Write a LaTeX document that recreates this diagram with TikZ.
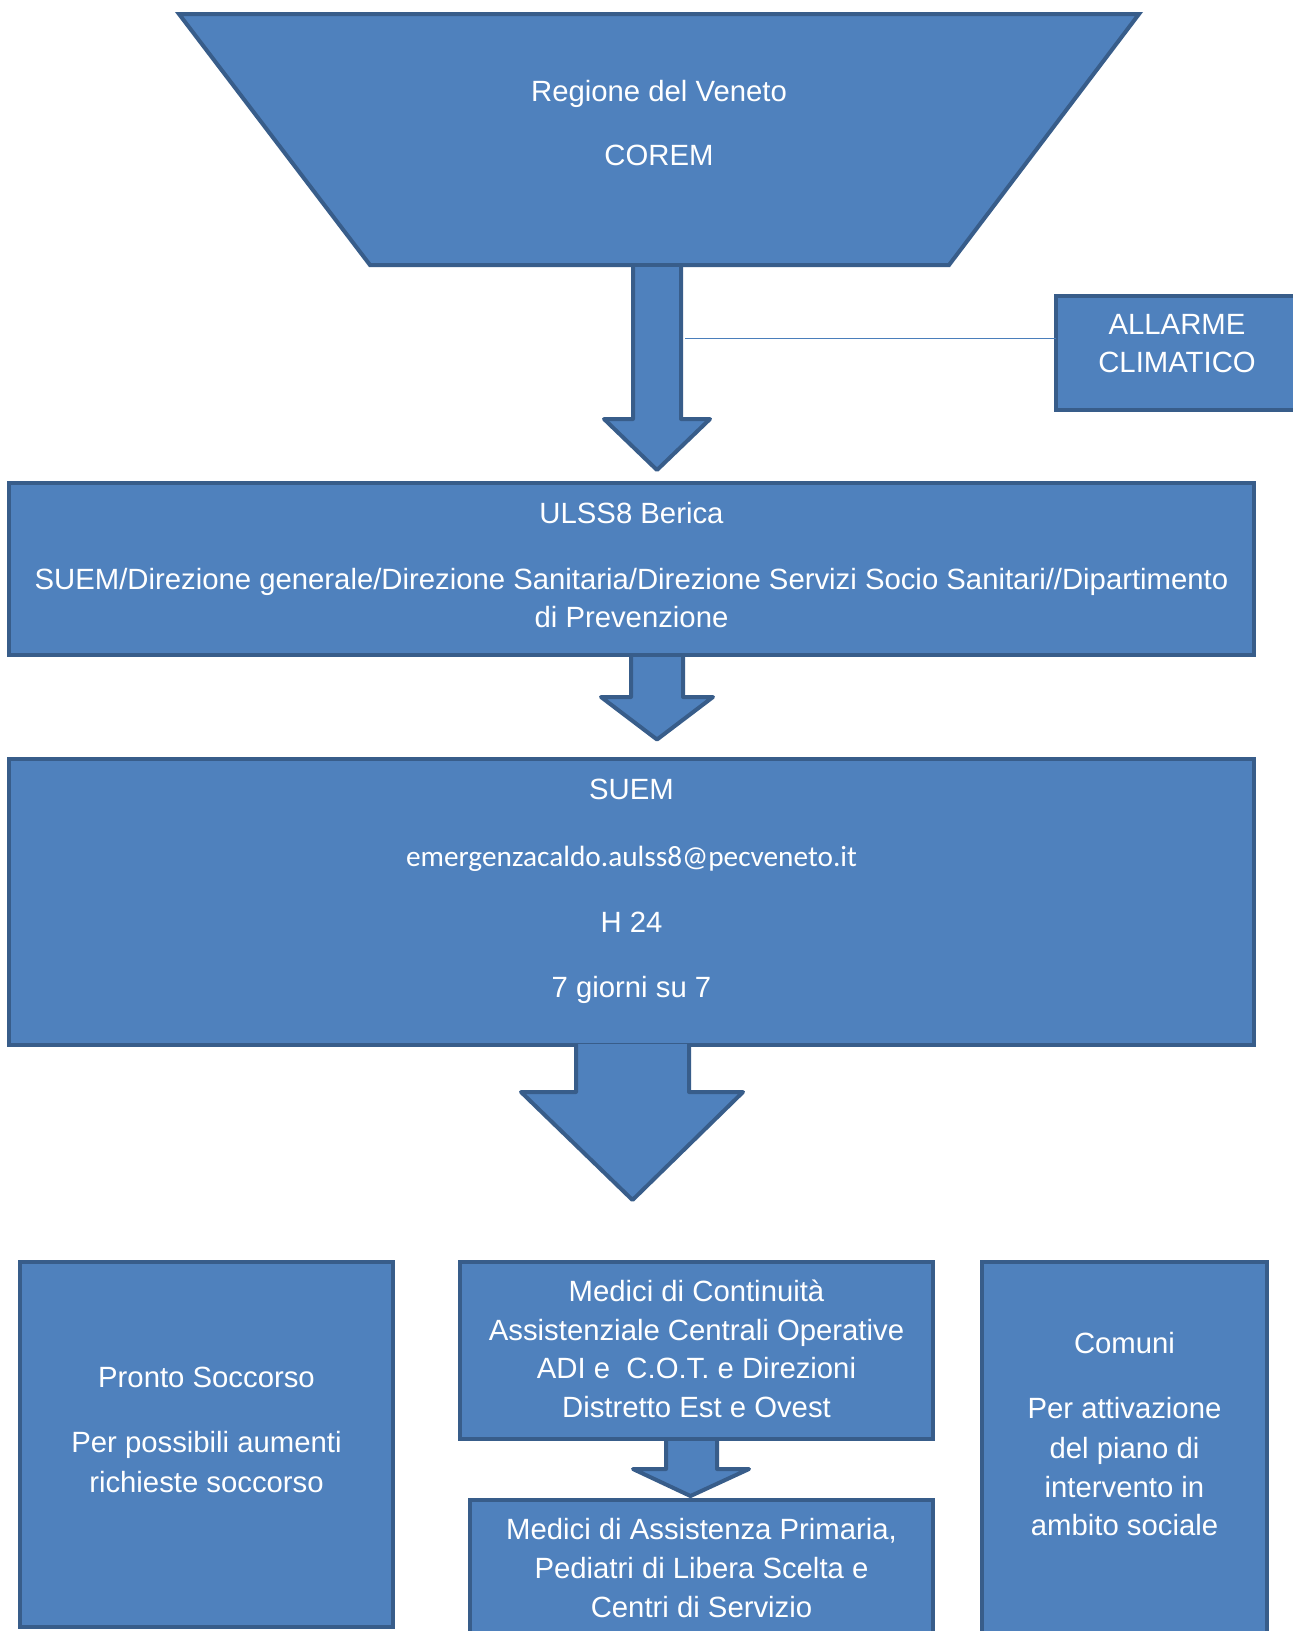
\documentclass[tikz,border=0pt]{standalone}
\usepackage{fontspec}
\setmainfont{Liberation Sans}
\newfontfamily\calibfont{Carlito}
\definecolor{bfill}{HTML}{4F81BD}
\definecolor{bline}{HTML}{385D8A}
\definecolor{thinline}{HTML}{4A7EBB}
\begin{document}
\begin{tikzpicture}[x=1pt,y=-1pt,
  box/.style={draw=bline, fill=bfill, line width=4pt, inner sep=0pt, outer sep=0pt},
  arrowbody/.style={draw=bline, fill=bfill, line width=4pt, line join=round},
  lbl/.style={text=white, font=\fontsize{29.3}{39.5}\selectfont, inner sep=0pt, text height=21pt, text depth=0pt},
  maillbl/.style={lbl, font=\fontsize{29.3}{39.5}\calibfont}]
\clip (0,0) rectangle (1293,1631);
\fill[white] (0,0) rectangle (1293,1631);
% top trapezoid
\draw[box] (179,14) -- (1139,14) -- (949,265) -- (370,265) -- cycle;
% boxes
\node[box, minimum width=244pt, minimum height=114pt] (allarme) at (1178,353) {};
\node[box, minimum width=1245pt, minimum height=172pt] (ulss) at (631.5,569) {};
\node[box, minimum width=1245pt, minimum height=286pt] (suem) at (631.5,902) {};
\node[box, minimum width=373pt, minimum height=365pt] (pronto) at (206.5,1444.5) {};
\node[box, minimum width=473pt, minimum height=177pt] (cont) at (696.5,1350.5) {};
\node[box, minimum width=463pt, minimum height=161pt] (prim) at (701.5,1580.5) {};
\node[box, minimum width=285pt, minimum height=379pt] (comuni) at (1124.5,1451.5) {};
% block arrows
\draw[arrowbody] (633,267) -- (633,419) -- (604,419) -- (657,470) -- (710,419) -- (681,419) -- (681,267);
\draw[arrowbody] (631,657) -- (631,697) -- (601,697) -- (657,739.5) -- (713,697) -- (683,697) -- (683,657);
\draw[arrowbody] (576,1044) -- (576,1092) -- (521,1092) -- (632.5,1200) -- (743,1092) -- (689,1092) -- (689,1044);
\draw[arrowbody] (666,1441) -- (666,1469) -- (633,1469) -- (690.5,1496) -- (749,1469) -- (717,1469) -- (717,1441);
% thin connector
\coordinate (a1r) at (685,338.5);
\draw[thinline, line width=1.6pt] (a1r) -- (a1r -| allarme.west);
% texts
\node[lbl] (t1) at (659,90.7) {Regione del Veneto};
\node[lbl] (t2) at (659,155) {COREM};
\node[lbl] (t3) at (1177,324) {ALLARME};
\node[lbl] (t4) at (1177,362) {CLIMATICO};
\node[lbl] (u1) at (631.5,513.3) {ULSS8 Berica};
\node[lbl] (u2) at (631.5,578.6) {SUEM/Direzione generale/Direzione Sanitaria/Direzione Servizi Socio Sanitari//Dipartimento};
\node[lbl] (u3) at (631.5,617.4) {di Prevenzione};
\node[lbl] (s1) at (631.5,789.3) {SUEM};
\node[maillbl] (s2) at (631.5,856) {emergenzacaldo.aulss8@pecveneto.it};
\node[lbl] (s3) at (631.5,921.5) {H 24};
\node[lbl] (s4) at (631.5,986.9) {7 giorni su 7};
\node[lbl] (p1) at (206.5,1376.7) {Pronto Soccorso};
\node[lbl] (p2) at (206.5,1442) {Per possibili aumenti};
\node[lbl] (p3) at (206.5,1481.7) {richieste soccorso};
\node[lbl] (c1) at (696.5,1290.7) {Medici di Continuità};
\node[lbl] (c2) at (696.5,1330) {Assistenziale Centrali Operative};
\node[lbl] (c3) at (696.5,1367.7) {ADI e\ \ C.O.T. e Direzioni};
\node[lbl] (c4) at (696.5,1406.7) {Distretto Est e Ovest};
\node[lbl] (m1) at (701.5,1529) {Medici di Assistenza Primaria,};
\node[lbl] (m2) at (701.5,1568.3) {Pediatri di Libera Scelta e};
\node[lbl] (m3) at (701.5,1606.7) {Centri di Servizio};
\node[lbl] (k1) at (1124.5,1343.3) {Comuni};
\node[lbl] (k2) at (1124.5,1408.3) {Per attivazione};
\node[lbl] (k3) at (1124.5,1448.3) {del piano di};
\node[lbl] (k4) at (1124.5,1486.7) {intervento in};
\node[lbl] (k5) at (1124.5,1525) {ambito sociale};
\end{tikzpicture}
\end{document}
